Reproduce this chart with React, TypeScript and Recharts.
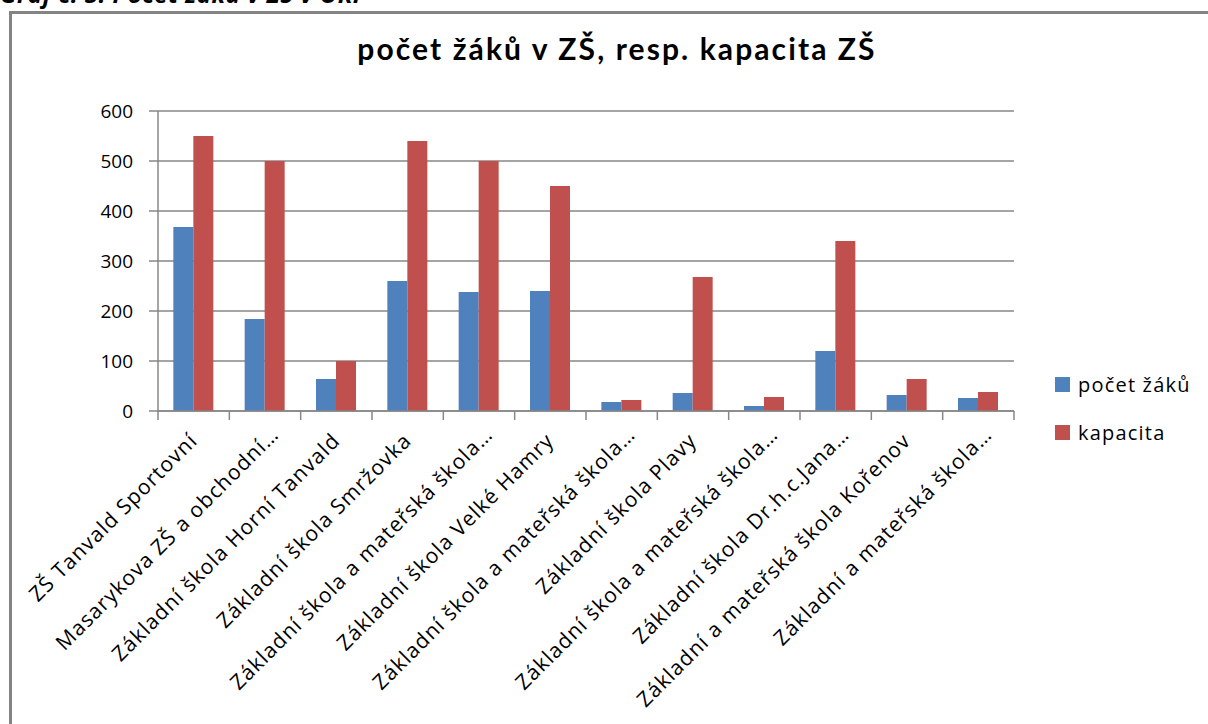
import React from "react";
import { BarChart, Bar, XAxis, YAxis, CartesianGrid, Legend } from "recharts";

const categories = [
  "ZŠ Tanvald Sportovní",
  "Masarykova ZŠ a obchodní…",
  "Základní škola Horní Tanvald",
  "Základní škola Smržovka",
  "Základní škola a mateřská škola…",
  "Základní škola Velké Hamry",
  "Základní škola a mateřská škola…",
  "Základní škola Plavy",
  "Základní škola a mateřská škola…",
  "Základní škola Dr.h.c.Jana…",
  "Základní a mateřská škola Kořenov",
  "Základní a mateřská škola…",
];
const pupils = [368, 184, 64, 260, 238, 240, 18, 36, 10, 120, 32, 26];
const capacity = [550, 500, 100, 540, 500, 450, 22, 268, 28, 340, 64, 38];
const yTicks = [0, 100, 200, 300, 400, 500, 600];
const seriesNames = ["počet žáků", "kapacita"];
const seriesColors = ["#4F81BD", "#C0504D"];
const chartTitle = "počet žáků v ZŠ, resp. kapacita ZŠ";
const captionText = "Graf č. 5: Počet žáků v ZŠ v ORP";

const data = categories.map((name, i) => ({
  name,
  pupils: pupils[i],
  capacity: capacity[i],
}));

const W = 1208;
const H = 724;
const MARGIN = { top: 111, right: 194, left: 98, bottom: 63 };
const Y_AXIS_W = 60;
const X_AXIS_H = 250;
const PLOT_W = W - MARGIN.left - MARGIN.right - Y_AXIS_W;
const BAND = PLOT_W / categories.length;
const FONT = "'Open Sans', Lato, sans-serif";
const TITLE_FONT = "Lato, 'Open Sans', sans-serif";
const GRID = "#878787";

const XTick = (props: any) => {
  const { x, y, payload, index } = props;
  const half = BAND / 2;
  const label: string = String(payload.value);
  const truncated = label.endsWith("…");
  const lx = truncated ? x + 15 : x + 5;
  const ly = truncated ? y + 25 : y + 31;
  return (
    <g>
      <line x1={x - half} x2={x - half} y1={y} y2={y + 9} stroke={GRID} strokeWidth={1.5} />
      {index === categories.length - 1 && (
        <line x1={x + half} x2={x + half} y1={y} y2={y + 9} stroke={GRID} strokeWidth={1.5} />
      )}
      <text
        transform={`translate(${lx},${ly}) rotate(-45)`}
        textAnchor="end"
        fontSize={21}
        letterSpacing={1.1}
        fontFamily={FONT}
        fill="#000"
      >
        {label}
      </text>
    </g>
  );
};

const LegendContent = () => {
  return (
    <div>
      {seriesNames.map((name, i) => (
        <div
          key={i}
          style={{
            display: "flex",
            alignItems: "center",
            height: 48,
            fontFamily: FONT,
            fontSize: 20,
            letterSpacing: 1.2,
            color: "#000",
          }}
        >
          <span
            style={{ display: "inline-block", width: 15, height: 15, background: seriesColors[i], marginRight: 8 }}
          />
          {name}
        </div>
      ))}
    </div>
  );
};

export default function App() {
  return (
    <div
      style={{
        position: "absolute",
        left: 0,
        top: 0,
        width: W,
        height: H,
        overflow: "hidden",
        background: "#fff",
      }}
    >
      <div
        style={{
          position: "absolute",
          left: 0,
          top: -23,
          fontFamily: FONT,
          fontWeight: 700,
          fontStyle: "italic",
          fontSize: 24,
          letterSpacing: 0.5,
          whiteSpace: "nowrap",
          color: "#000",
        }}
      >
        {captionText}
      </div>
      <div
        style={{
          position: "absolute",
          left: 9,
          top: 11,
          width: W + 20,
          height: H + 20,
          border: "3px solid #848484",
          boxSizing: "border-box",
        }}
      />
      <div
        style={{
          position: "absolute",
          left: 0,
          width: W,
          top: 30,
          textAlign: "center",
          paddingLeft: 26,
          boxSizing: "border-box",
          fontFamily: TITLE_FONT,
          fontWeight: 700,
          fontSize: 30,
          letterSpacing: 2.1,
          color: "#000",
        }}
      >
        {chartTitle}
      </div>
      <div style={{ position: "absolute", left: 0, top: 0 }}>
        <BarChart width={W} height={H} data={data} margin={MARGIN} barCategoryGap="21.5%" barGap={0}>
          <CartesianGrid vertical={false} stroke={GRID} strokeWidth={1.5} />
          <XAxis
            dataKey="name"
            interval={0}
            height={X_AXIS_H}
            tickSize={0}
            tickMargin={0}
            tickLine={false}
            axisLine={{ stroke: GRID, strokeWidth: 1.5 }}
            tick={<XTick />}
            allowDuplicatedCategory={true}
          />
          <YAxis
            width={Y_AXIS_W}
            domain={[0, 600]}
            ticks={yTicks}
            interval={0}
            tickSize={9}
            tickMargin={16}
            tickLine={{ stroke: GRID, strokeWidth: 1.5 }}
            axisLine={{ stroke: GRID, strokeWidth: 1.5 }}
            tick={{ fill: "#000", fontSize: 19, fontFamily: FONT }}
          />
          <Legend
            verticalAlign="middle"
            align="center"
            layout="horizontal"
            content={<LegendContent />}
            wrapperStyle={{ position: "absolute", left: 1055, top: 360, width: 150 }}
          />
          <Bar dataKey="pupils" name={seriesNames[0]} fill={seriesColors[0]} isAnimationActive={false} />
          <Bar dataKey="capacity" name={seriesNames[1]} fill={seriesColors[1]} isAnimationActive={false} />
        </BarChart>
      </div>
    </div>
  );
}
